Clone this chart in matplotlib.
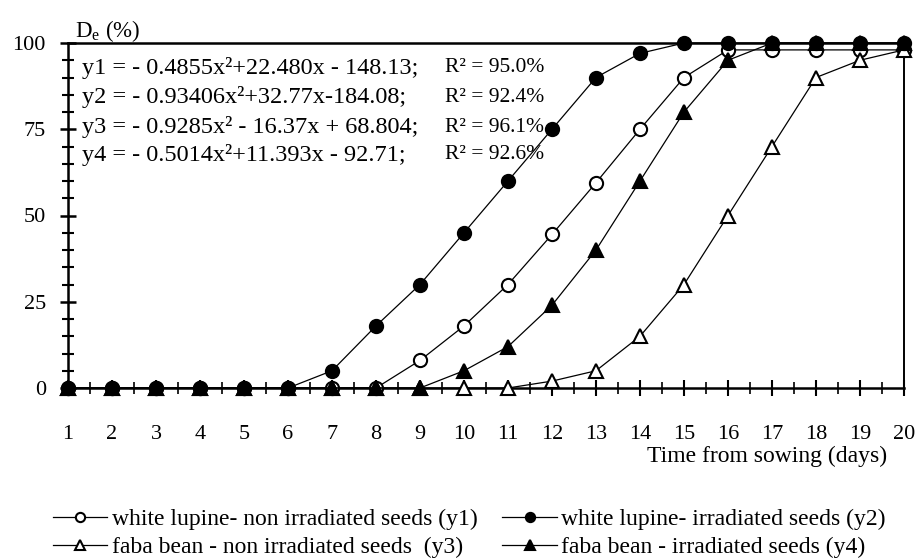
import matplotlib
matplotlib.use("Agg")
import matplotlib.pyplot as plt
import numpy as np

plt.rcParams['font.family'] = ['Liberation Serif', 'DejaVu Serif']
plt.rcParams['mathtext.fontset'] = 'custom'
plt.rcParams['mathtext.rm'] = 'Liberation Serif'
plt.rcParams['mathtext.it'] = 'Liberation Serif:italic'

# Données
days = list(range(1, 21))
y1 = [0, 0, 0, 0, 0, 0, 0, 0, 8, 18, 30, 44.5, 59.5, 75, 90, 98, 98, 98, 98, 98]
y2 = [0, 0, 0, 0, 0, 0, 5, 18, 30, 45, 60, 75, 90, 97, 100, 100, 100, 100, 100, 100]
y3 = [0, 0, 0, 0, 0, 0, 0, 0, 0, 0, 0, 2, 5, 15, 30, 50, 70, 90, 95, 98]
y4 = [0, 0, 0, 0, 0, 0, 0, 0, 0, 5, 12, 24, 40, 60, 80, 95, 100, 100, 100, 100]

labels = ["white lupine- non irradiated seeds (y1)",
          "white lupine- irradiated seeds (y2)",
          "faba bean - non irradiated seeds  (y3)",
          "faba bean - irradiated seeds (y4)"]

equations = ["y1 = - 0.4855x²+22.480x - 148.13;",
             "y2 = - 0.93406x²+32.77x-184.08;",
             "y3 = - 0.9285x² - 16.37x + 68.804;",
             "y4 = - 0.5014x²+11.393x - 92.71;"]
r2 = ["R² = 95.0%", "R² = 92.4%", "R² = 96.1%", "R² = 92.6%"]

fig = plt.figure(figsize=(9.2, 5.59), dpi=100)
ax = fig.add_axes([68/920, 1 - 388/559, (904 - 68)/920, (388 - 43)/559])

ms = 9.5
common = dict(color='black', linewidth=0.9, markersize=ms, clip_on=False,
              markeredgecolor='black', markeredgewidth=1.5)
l1, = ax.plot(days, y1, marker='o', markerfacecolor='white', zorder=3, **common)
l3, = ax.plot(days, y3, marker='^', markerfacecolor='white', zorder=3, **common)
l4, = ax.plot(days, y4, marker='^', markerfacecolor='black', zorder=4, **common)
l2, = ax.plot(days, y2, marker='o', markerfacecolor='black', zorder=5, **common)

ax.set_xlim(1, 20)
ax.set_ylim(0, 100)
ax.set_xticks(days)
ax.set_xticks(np.arange(1.5, 20, 1), minor=True)
ax.set_yticks([0, 25, 50, 75, 100])
ax.set_yticks(np.arange(0, 101, 5), minor=True)

for s in ax.spines.values():
    s.set_linewidth(1.8)
    s.set_zorder(2)
ax.spines['right'].set_linewidth(1.4)

ax.tick_params(axis='x', which='major', direction='inout', length=11, width=1.5,
               labelsize=16, pad=21)
ax.tick_params(axis='x', which='minor', direction='inout', length=8, width=1.2)
ax.tick_params(axis='y', which='major', direction='inout', length=12, width=1.8,
               labelsize=16, pad=10)
ax.tick_params(axis='y', which='minor', direction='inout', length=9, width=1.5)

# Titre de l'axe y et de l'axe x
fig.text(75/920, 1 - 31/559, r"D$_\mathrm{e}$ (%)", fontsize=16.5, va='center', ha='left')
fig.text(887/920, 1 - 456/559, "Time from sowing (days)", fontsize=17, va='center', ha='right')

# Equations de regression
ys = [68, 97, 127, 155]
for eq, r, yy in zip(equations, r2, ys):
    fig.text(82/920, 1 - yy/559, eq, fontsize=17.5, va='center', ha='left')
    fig.text(445/920, 1 - yy/559, r, fontsize=15.5, va='center', ha='left')

leg = fig.legend([l1, l3, l2, l4], [labels[0], labels[2], labels[1], labels[3]],
                 ncol=2, frameon=False, loc='upper left',
                 bbox_to_anchor=(41/920, 1 - 497/559), fontsize=17,
                 handlelength=2.3, handletextpad=0.2, columnspacing=1.05,
                 labelspacing=0.25, borderpad=0, markerscale=0.7)

fig.savefig("out.png", dpi=100)
